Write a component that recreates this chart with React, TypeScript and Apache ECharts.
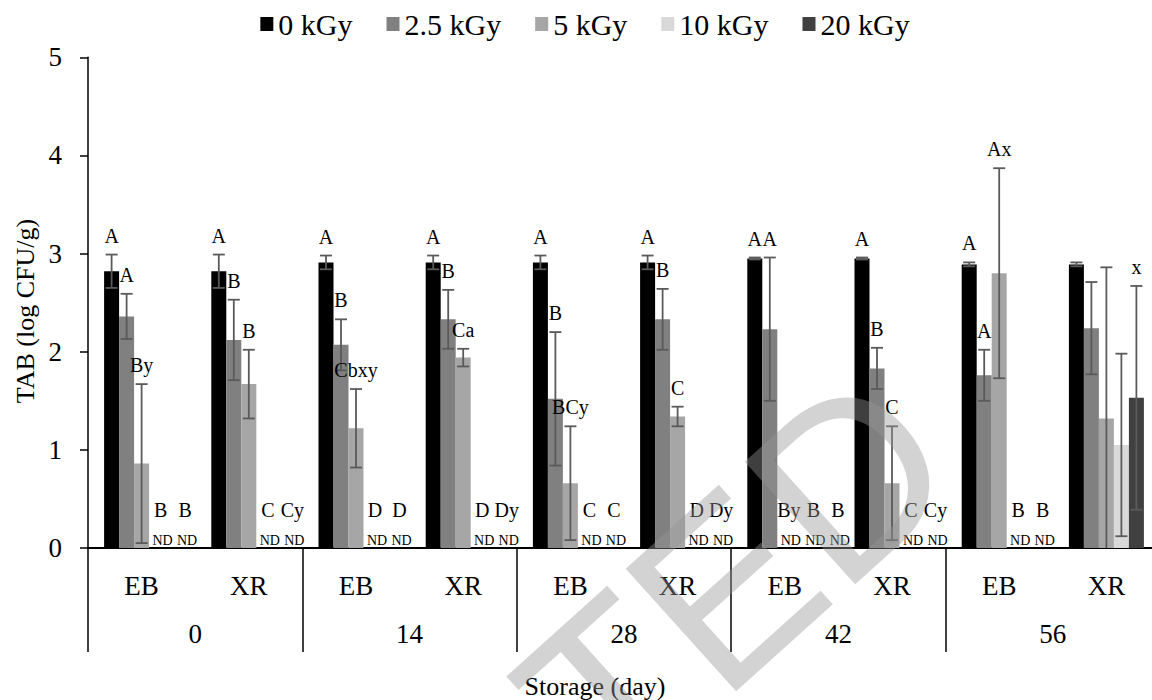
import React, { useEffect, useRef } from "react";
import * as echarts from "echarts";

const categories = ["EB", "XR", "EB", "XR", "EB", "XR", "EB", "XR", "EB", "XR"];
const days = ["0", "14", "28", "42", "56"];
const doses = ["0 kGy", "2.5 kGy", "5 kGy", "10 kGy", "20 kGy"];
const colors = ["#000000", "#808080", "#a6a6a6", "#d9d9d9", "#404040"];

// mean values (0 = ND)
const v0 = [2.82, 2.82, 2.91, 2.91, 2.91, 2.91, 2.95, 2.95, 2.89, 2.89];
const v25 = [2.36, 2.12, 2.07, 2.33, 1.52, 2.33, 2.23, 1.83, 1.76, 2.24];
const v5 = [0.86, 1.67, 1.22, 1.94, 0.66, 1.34, 0, 0.66, 2.8, 1.32];
const v10 = [0, 0, 0, 0, 0, 0, 0, 0, 0, 1.05];
const v20 = [0, 0, 0, 0, 0, 0, 0, 0, 0, 1.53];

// standard deviations
const e0 = [0.17, 0.17, 0.07, 0.07, 0.07, 0.07, 0.01, 0.01, 0.02, 0.02];
const e25 = [0.23, 0.41, 0.26, 0.3, 0.68, 0.31, 0.73, 0.21, 0.26, 0.47];
const e5 = [0.81, 0.35, 0.4, 0.09, 0.58, 0.1, 0, 0.58, 1.07, 1.54];
const e10 = [0, 0, 0, 0, 0, 0, 0, 0, 0, 0.93];
const e20 = [0, 0, 0, 0, 0, 0, 0, 0, 0, 1.14];

// significance letters
const l0 = ["A", "A", "A", "A", "A", "A", "A", "A", "A", ""];
const l25 = ["A", "B", "B", "B", "B", "B", "A", "B", "A", ""];
const l5 = ["By", "B", "Cbxy", "Ca", "BCy", "C", "By", "C", "Ax", ""];
const l10 = ["B", "C", "D", "D", "C", "D", "B", "C", "B", ""];
const l20 = ["B", "Cy", "D", "Dy", "C", "Dy", "B", "Cy", "B", "x"];

const values = [v0, v25, v5, v10, v20];
const errors = [e0, e25, e5, e10, e20];
const letters = [l0, l25, l5, l10, l20];

const FONT = "'Liberation Serif', 'Times New Roman', serif";
const BAR_W = 15;

export default function App() {
  const ref = useRef<HTMLDivElement>(null);
  useEffect(() => {
    if (!ref.current) return;
    const chart = echarts.init(ref.current, undefined, { renderer: "svg" });

    const errData: number[][] = [];
    const errLabels: string[] = [];
    const ndRank: number[] = [];
    for (let c = 0; c < categories.length; c++) {
      let k = 0;
      for (let s = 0; s < doses.length; s++) {
        errData.push([c, s, values[s][c], errors[s][c]]);
        errLabels.push(letters[s][c]);
        if (values[s][c] === 0) {
          ndRank.push(k);
          k++;
        } else ndRank.push(-1);
      }
    }

    const renderItem = (params: any, api: any) => {
      const c = api.value(0);
      const s = api.value(1);
      const v = api.value(2);
      const e = api.value(3);
      const idx = params.dataIndex;
      const base = api.coord([c, 0]);
      const cx = base[0] + (s - 2) * BAR_W;
      const y0 = base[1];
      const children: any[] = [];
      const lineStyle = { stroke: "#5a5a5a", lineWidth: 1.8 };
      const lbl = errLabels[idx];
      if (v > 0) {
        const top = api.coord([c, v + e])[1];
        if (e > 0) {
          const lo = Math.max(0, v - e);
          const bot = api.coord([c, lo])[1];
          children.push({ type: "line", shape: { x1: cx, y1: top, x2: cx, y2: bot }, style: lineStyle });
          children.push({ type: "line", shape: { x1: cx - 6, y1: top, x2: cx + 6, y2: top }, style: lineStyle });
          if (v - e >= 0) {
            children.push({ type: "line", shape: { x1: cx - 6, y1: bot, x2: cx + 6, y2: bot }, style: lineStyle });
          }
        }
        if (lbl) {
          children.push({
            type: "text",
            x: cx,
            y: top - 19,
            style: { text: lbl, fontSize: 20, fontFamily: FONT, fill: "#000", align: "center", verticalAlign: "middle" },
          });
        }
      } else {
        const dx = 6 + ndRank[idx] * 9.5;
        children.push({
          type: "text",
          x: cx + dx,
          y: y0 - 8,
          style: { text: "ND", fontSize: 14, fontFamily: FONT, fill: "#000", align: "center", verticalAlign: "middle" },
        });
        if (lbl) {
          children.push({
            type: "text",
            x: cx + dx - 2,
            y: y0 - 38,
            style: { text: lbl, fontSize: 20, fontFamily: FONT, fill: "#000", align: "center", verticalAlign: "middle" },
          });
        }
      }
      return { type: "group", children };
    };

    const option: any = {
      animation: false,
      backgroundColor: "#ffffff",
      textStyle: { fontFamily: FONT },
      legend: {
        data: doses,
        top: 4,
        left: "center",
        icon: "rect",
        itemWidth: 13,
        itemHeight: 14,
        itemGap: 34,
        textStyle: { fontSize: 30, color: "#000", fontFamily: FONT },
      },
      grid: { left: 88, right: 10, top: 57.3, bottom: 152, containLabel: false },
      xAxis: [
        {
          type: "category",
          data: categories,
          axisLine: { show: true, lineStyle: { color: "#000", width: 2 } },
          axisTick: { show: false },
          axisLabel: { fontSize: 27, color: "#000", fontFamily: FONT, margin: 24 },
        },
        {
          type: "category",
          data: days,
          position: "bottom",
          axisLine: { show: false },
          axisTick: { show: true, length: 104, lineStyle: { color: "#000", width: 1.5 } },
          axisLabel: { fontSize: 27, color: "#000", fontFamily: FONT, margin: 72 },
        },
      ],
      yAxis: {
        type: "value",
        min: 0,
        max: 5,
        interval: 1,
        axisLine: { show: true, lineStyle: { color: "#000", width: 1.5 } },
        axisTick: { show: true, length: 8, lineStyle: { color: "#000", width: 1.5 } },
        splitLine: { show: false },
        axisLabel: { fontSize: 27, color: "#000", fontFamily: FONT, margin: 26 },
      },
      series: [
        ...doses.map((name, i) => ({
          type: "bar",
          name,
          data: values[i],
          barWidth: BAR_W,
          barGap: "0%",
          xAxisIndex: 0,
          itemStyle: { color: colors[i] },
        })),
        {
          type: "custom",
          name: "err",
          xAxisIndex: 0,
          yAxisIndex: 0,
          data: errData,
          encode: { x: 0, y: 2 },
          renderItem,
          z: 10,
          silent: true,
          clip: false,
        },
      ],
      graphic: [
        {
          type: "text",
          x: 25,
          y: 311,
          rotation: Math.PI / 2,
          style: { text: "TAB (log CFU/g)", fontSize: 26, fontFamily: FONT, fill: "#000", align: "center", verticalAlign: "middle" },
        },
        {
          type: "text",
          x: 595,
          y: 686,
          style: { text: "Storage (day)", fontSize: 26, fontFamily: FONT, fill: "#000", align: "center", verticalAlign: "middle" },
        },
        {
          type: "text",
          x: 994,
          y: 509,
          rotation: (42 * Math.PI) / 180,
          z: 100,
          silent: true,
          style: {
            text: "ACCEPTED",
            fontSize: 240,
            fontWeight: "normal",
            fontFamily: "'Liberation Sans', Arial, sans-serif",
            fill: "rgba(150,150,150,0.42)",
            align: "right",
            verticalAlign: "bottom",
          },
        },
      ],
    };
    chart.setOption(option);
    return () => chart.dispose();
  }, []);

  return (
    <div style={{ position: "absolute", left: 0, top: 0, width: 1152, height: 700, overflow: "hidden", background: "#fff" }}>
      <div ref={ref} style={{ width: 1170, height: 700 }} />
    </div>
  );
}
